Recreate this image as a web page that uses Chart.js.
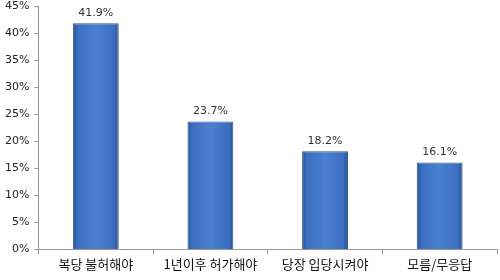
<!DOCTYPE html>
<html>
<head>
<meta charset="utf-8">
<script src="https://cdn.jsdelivr.net/npm/chart.js@4"></script>
<style>
  html, body { margin: 0; padding: 0; background: #fff; overflow: hidden; }
  #wrap { width: 500px; height: 283px; margin-top: -4px; }
</style>
</head>
<body>
<div id="wrap"><canvas id="chart"></canvas></div>
<script>
// ===== data =====
const categories = ["복당 불허해야", "1년이후 허가해야", "당장 입당시켜야", "모름/무응답"];
const values = [41.9, 23.7, 18.2, 16.1];
const yTicks = [0, 5, 10, 15, 20, 25, 30, 35, 40, 45];

// bar fill: dark edges, lighter middle
function barFill(ctx) {
    const chart = ctx.chart;
    if (!chart.chartArea || !chart.scales.x) return "#3a6cc0";
    const x = chart.scales.x.getPixelForValue(ctx.dataIndex);
    const w = chart.scales.x.width / categories.length * 0.4;
    const g = chart.ctx.createLinearGradient(x - w / 2, 0, x + w / 2, 0);
    g.addColorStop(0, "#26528f");
    g.addColorStop(0.1, "#3b6dc0");
    g.addColorStop(0.5, "#4a80d0");
    g.addColorStop(0.9, "#3b6dc0");
    g.addColorStop(1, "#26528f");
    return g;
}

// value labels above bars
const valueLabels = {
    id: "valueLabels",
    afterDatasetsDraw(chart) {
        const c = chart.ctx;
        c.save();
        c.font = "11px 'DejaVu Sans'";
        c.fillStyle = "#333";
        c.textAlign = "center";
        c.textBaseline = "bottom";
        chart.getDatasetMeta(0).data.forEach((bar, i) => {
            c.fillText(values[i].toFixed(1) + "%", bar.x, bar.y - 5);
        });
        c.restore();
    }
};

new Chart(document.getElementById("chart"), {
    type: "bar",
    data: {
        labels: categories,
        datasets: [{
            data: values,
            backgroundColor: barFill,
            borderColor: "#2a5596",
            borderWidth: 1,
            barPercentage: 0.4,
            categoryPercentage: 1
        }]
    },
    options: {
        responsive: true,
        maintainAspectRatio: false,
        animation: false,
        layout: { padding: { top: 0, right: 3, left: 0, bottom: 5 } },
        plugins: { legend: { display: false }, tooltip: { enabled: false } },
        scales: {
            x: {
                grid: { offset: true, drawOnChartArea: false, tickLength: 5, color: "#999" },
                border: { color: "#999" },
                ticks: {
                    color: "#111",
                    font: { family: "'Noto Sans CJK KR'", size: 13 },
                    padding: 2
                }
            },
            y: {
                min: 0,
                max: 45,
                afterBuildTicks(axis) { axis.ticks = yTicks.map(v => ({ value: v })); },
                grid: { drawOnChartArea: false, tickLength: 4, color: "#999" },
                border: { color: "#999" },
                ticks: {
                    color: "#222",
                    font: { family: "'DejaVu Sans'", size: 11, lineHeight: 1 },
                    padding: 5,
                    callback: v => v + "%"
                }
            }
        }
    },
    plugins: [valueLabels]
});
</script>
</body>
</html>
